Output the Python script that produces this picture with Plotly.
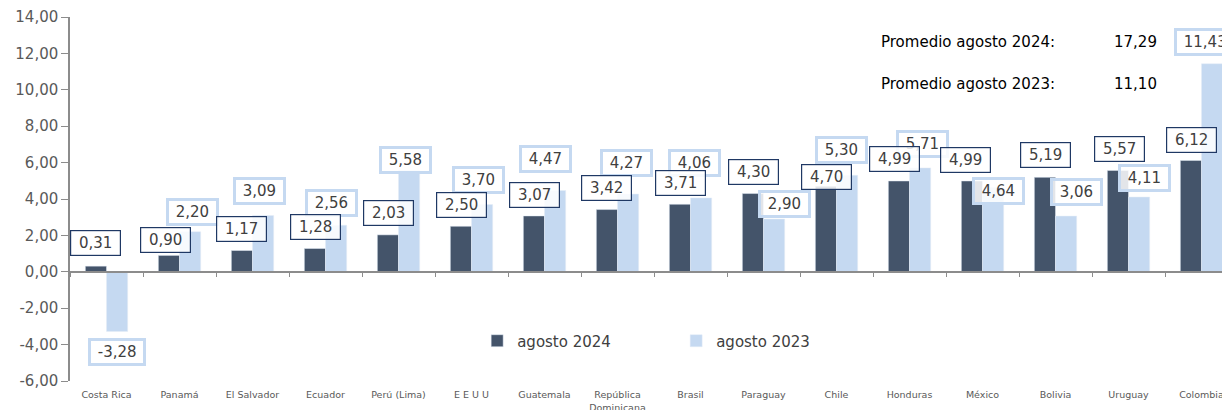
import plotly.graph_objects as go

categories = ["Costa Rica", "Panamá", "El Salvador", "Ecuador", "Perú (Lima)", "E E U U",
              "Guatemala", "República<br>Dominicana", "Brasil", "Paraguay", "Chile",
              "Honduras", "México", "Bolivia", "Uruguay", "Colombia"]
values_2024 = [0.31, 0.90, 1.17, 1.28, 2.03, 2.50, 3.07, 3.42, 3.71, 4.30, 4.70, 4.99, 4.99, 5.19, 5.57, 6.12]
values_2023 = [-3.28, 2.20, 3.09, 2.56, 5.58, 3.70, 4.47, 4.27, 4.06, 2.90, 5.30, 5.71, 4.64, 3.06, 4.11, 11.43]
y_ticks = [-6, -4, -2, 0, 2, 4, 6, 8, 10, 12, 14]
promedio_2024 = 17.29
promedio_2023 = 11.10

# label placement (layout only): vertical position in axis units, horizontal shift in px
lbl_y_2024 = [1.58, 1.75, 2.35, 2.46, 3.23, 3.67, 4.22, 4.60, 4.88, 5.48, 5.20, 6.20, 6.14, 6.41, 6.74, 7.24]
lbl_dx_2024 = [-11, -14, -11, -10, -10, -10, -10, -11, -10, -10, -10, -15, -17, -10, -9, -10]
lbl_y_2023 = [-4.41, 3.28, 4.44, 3.79, 6.14, 5.04, 6.19, 5.98, 5.98, 3.72, 6.67, 7.02, 4.44, 4.39, 5.15, 12.63]
lbl_dx_2023 = [10, 13, 7, 6, 7, 7, 1, 9, 4, 21, 5, 13, 16, 21, 16, 1]

DARK = "#44546A"
LIGHT = "#C5D9F1"
TXT = "#404040"
FONT = "DejaVu Sans"


def fmt(v):
    return f"{v:.2f}".replace(".", ",")


fig = go.Figure()
fig.add_trace(go.Bar(x=categories, y=values_2024, name="agosto 2024", marker_color=DARK,
                     hoverinfo="skip"))
fig.add_trace(go.Bar(x=categories, y=values_2023, name="agosto 2023", marker_color=LIGHT,
                     hoverinfo="skip"))
# helper trace for the axis line drawn at zero
fig.add_trace(go.Scatter(x=categories, y=[0] * len(categories), xaxis="x2", mode="lines",
                         line=dict(width=0), opacity=0, showlegend=False, hoverinfo="skip"))

annotations = []
for i, c in enumerate(categories):
    pad = " " if i < len(categories) - 1 else ""
    annotations.append(dict(x=c, y=lbl_y_2023[i], xref="x", yref="y", xshift=lbl_dx_2023[i],
                            text=" " + fmt(values_2023[i]) + pad, showarrow=False,
                            font=dict(family=FONT, size=15, color=TXT),
                            bgcolor="rgba(255,255,255,0.85)", bordercolor=LIGHT,
                            borderwidth=3, borderpad=2))
    annotations.append(dict(x=c, y=lbl_y_2024[i], xref="x", yref="y", xshift=lbl_dx_2024[i],
                            text=" " + fmt(values_2024[i]) + " ", showarrow=False,
                            font=dict(family=FONT, size=15, color=TXT),
                            bgcolor="rgba(255,255,255,0.85)", bordercolor="#1F3864",
                            borderwidth=1.2, borderpad=3))

annotations += [
    dict(x=0.693, y=0.931, xref="paper", yref="paper", xanchor="left", yanchor="middle",
         text="Promedio agosto 2024:", showarrow=False, font=dict(family=FONT, size=15, color="#000")),
    dict(x=0.892, y=0.931, xref="paper", yref="paper", xanchor="left", yanchor="middle",
         text=fmt(promedio_2024), showarrow=False, font=dict(family=FONT, size=15, color="#000")),
    dict(x=0.693, y=0.816, xref="paper", yref="paper", xanchor="left", yanchor="middle",
         text="Promedio agosto 2023:", showarrow=False, font=dict(family=FONT, size=15, color="#000")),
    dict(x=0.892, y=0.816, xref="paper", yref="paper", xanchor="left", yanchor="middle",
         text=fmt(promedio_2023), showarrow=False, font=dict(family=FONT, size=15, color="#000")),
]

xr = [-0.5, 15.5]
fig.update_layout(
    width=1230, height=410,
    margin=dict(l=62, r=0, t=9, b=37),
    paper_bgcolor="white", plot_bgcolor="white",
    barmode="group", bargap=0.42, bargroupgap=0,
    font=dict(family=FONT, color=TXT),
    showlegend=True,
    legend=dict(orientation="h", x=0.3486, y=0.11, xanchor="left", yanchor="middle",
                font=dict(family=FONT, size=15, color=TXT), entrywidth=154,
                entrywidthmode="pixels", bgcolor="rgba(0,0,0,0)", itemclick=False),
    annotations=annotations,
    xaxis=dict(range=xr, showline=False, ticks="outside", tickcolor="rgba(0,0,0,0)", ticklen=5,
               tickfont=dict(family=FONT, size=9.5, color="#595959"), showgrid=False,
               zeroline=False, fixedrange=True, automargin=False),
    xaxis2=dict(range=xr, overlaying="x", anchor="free", position=0.3, side="bottom",
                showline=True, linecolor="#8C8C8C", linewidth=1.5, ticks="outside",
                tickson="boundaries", ticklen=4, tickcolor="#8C8C8C", tickwidth=1.2,
                showticklabels=False, showgrid=False, zeroline=False, automargin=False,
                categoryorder="array", categoryarray=categories),
    yaxis=dict(range=[-6, 14], tickvals=y_ticks, ticktext=[fmt(v) for v in y_ticks],
               showline=True, linecolor="#8C8C8C",
               linewidth=1.5, ticks="outside", ticklen=7, tickcolor="#8C8C8C", tickwidth=1.2,
               tickfont=dict(family=FONT, size=15, color="#595959"), showgrid=False,
               zeroline=False, fixedrange=True, automargin=False),
)

fig.write_html("out.html")
